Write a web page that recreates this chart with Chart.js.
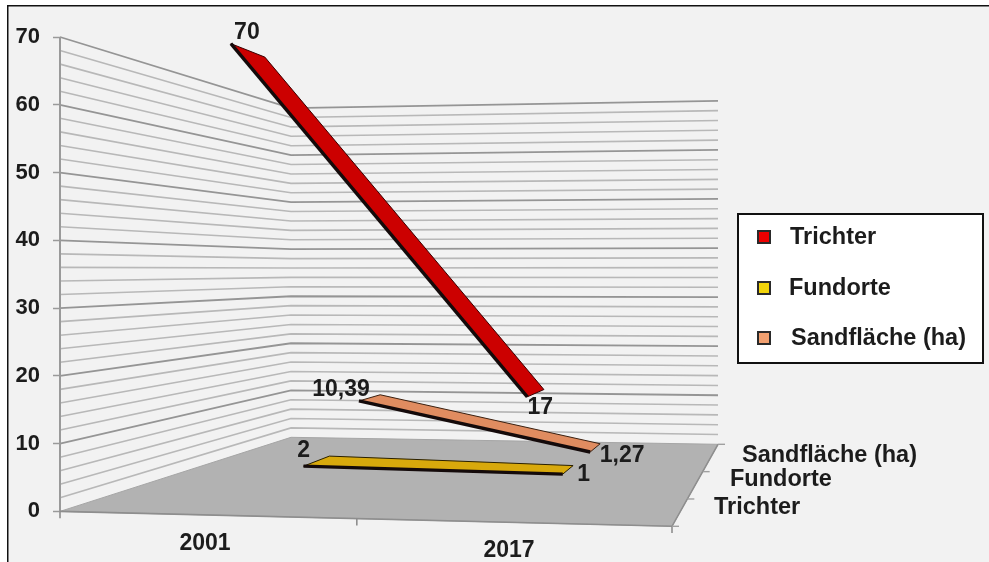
<!DOCTYPE html>
<html>
<head>
<meta charset="utf-8">
<script src="https://cdn.jsdelivr.net/npm/chart.js@4/dist/chart.umd.min.js"></script>
<style>
  html, body { margin: 0; padding: 0; background: #fff; }
  canvas { display: block; filter: blur(0.5px); }
</style>
</head>
<body>
<canvas id="chart" width="989" height="562"></canvas>
<script>
// data
const categories = ['2001', '2017'];
const seriesNames = ['Trichter', 'Fundorte', 'Sandfläche (ha)'];
const trichter = [70, 17];
const fundorte = [2, 1];
const sandflaeche = [10.39, 1.27];
const yTicks = [0, 10, 20, 30, 40, 50, 60, 70];

// look of the series
const seriesValues = [trichter, fundorte, sandflaeche];
const topColors = ['#cc0000', '#d8a90c', '#e08c60'];
const swatchColors = ['#ee0000', '#f2d40a', '#f2a070'];
const edgeColors = ['#3a0000', '#2a2000', '#3a2010'];

// the 3d box: floor corners in axis units, s = how tall one value unit is there
const FL = { x: 60, y: 0, s: 1 };
const FR = { x: 672, y: -2.2, s: 1.08 };
const BL = { x: 291, y: 10.93, s: 0.694 };
const BR = { x: 718, y: 9.9, s: 0.724 };
// where each ribbon sits on the floor, per series and category
const ribbonU = [[0.23, 0.75], [0.25, 0.74], [0.25, 0.745]];
const ribbonDepth = [
    [[0.16, 0.34], [0.09, 0.27]],
    [[0.49, 0.63], [0.53, 0.64]],
    [[0.79, 0.905], [0.797, 0.904]]
];

const lerp = (a, b, t) => a + (b - a) * t;

function project(u, w, value) {
    const at = key => lerp(lerp(FL[key], FR[key], u), lerp(BL[key], BR[key], u), w);
    return { x: at('x'), y: at('y') + value * at('s') };
}

const datasets = [];
function addLine(points, color, width, fillColor) {
    datasets.push({
        data: points,
        showLine: true,
        borderColor: color,
        borderWidth: width,
        backgroundColor: fillColor || 'transparent',
        fill: fillColor ? 'shape' : false,
        pointRadius: 0,
        tension: 0,
        clip: false
    });
}

// walls
for (let v = 2; v <= 70; v += 2) {
    const major = v % 10 === 0;
    addLine([project(0, 0, v), project(0, 1, v), project(1, 1, v)], major ? '#959595' : '#b8b8b8', major ? 1.8 : 1.6);
}
addLine([project(0, 0, 0), project(0, 0, 70)], '#9a9a9a', 2);

// floor
addLine([project(0, 0, 0), project(0, 1, 0), project(1, 1, 0), project(1, 0, 0), project(0, 0, 0)], '#a6a6a6', 1, '#b2b2b2');
addLine([project(0, 0, 0), project(1, 0, 0), project(1, 1, 0)], '#8e8e8e', 1.6);

// ticks round the floor
[0, 0.485, 1].forEach(u => {
    const p = project(u, 0, 0);
    addLine([p, { x: p.x, y: p.y - 1 }], '#8e8e8e', 1.6);
});
[0, 1 / 3, 2 / 3, 1].forEach(w => {
    const p = project(1, w, 0);
    addLine([p, { x: p.x + 7, y: p.y }], '#a0a0a0', 1.4);
});

// ribbons, back one first
[2, 1, 0].forEach(i => {
    const vals = seriesValues[i];
    const front = vals.map((v, c) => project(ribbonU[i][c], ribbonDepth[i][c][0], v));
    const back = vals.map((v, c) => project(ribbonU[i][c], ribbonDepth[i][c][1], v));
    addLine([front[0], back[0], back[1], front[1], front[0]], edgeColors[i], 1, topColors[i]);
    addLine(front, '#140a0a', 3.4);
});

// chart.js draws the first dataset last, so turn the list round
datasets.reverse();

const FAMILY = '"Liberation Sans", Arial, sans-serif';
const INK = '#1c1c1c';
// nudges from the front corner of a ribbon to its value label
const labelOffsets = [[[16, -11], [13, 11]], [[0, -15], [21, 1]], [[-18, -11], [32, 4]]];

const framePlugin = {
    id: 'frame',
    beforeDraw(chart) {
        const ctx = chart.ctx;
        ctx.save();
        ctx.fillStyle = '#ffffff';
        ctx.fillRect(0, 0, 989, 562);
        ctx.fillStyle = '#f2f2f2';
        ctx.fillRect(7, 5, 982, 557);
        ctx.fillStyle = '#111111';
        ctx.fillRect(7, 5, 982, 1.5);
        ctx.fillRect(7, 5, 1.5, 557);
        ctx.restore();
    }
};

const textPlugin = {
    id: 'texts',
    afterDraw(chart) {
        const ctx = chart.ctx;
        const sx = chart.scales.x;
        const sy = chart.scales.y;
        ctx.save();
        ctx.fillStyle = INK;
        ctx.font = 'bold 23px ' + FAMILY;
        ctx.textBaseline = 'middle';
        ctx.textAlign = 'center';

        // value labels
        seriesValues.forEach((vals, i) => {
            vals.forEach((v, c) => {
                const p = project(ribbonU[i][c], ribbonDepth[i][c][0], v);
                const [dx, dy] = labelOffsets[i][c];
                ctx.fillText(String(v).replace('.', ','), sx.getPixelForValue(p.x) + dx, sy.getPixelForValue(p.y) + dy);
            });
        });

        // category axis
        ctx.fillText(categories[0], 205, 544);
        ctx.fillText(categories[1], 509, 551);

        // depth axis
        ctx.textAlign = 'left';
        ctx.font = 'bold 23.5px ' + FAMILY;
        ctx.fillText(seriesNames[2], 742, 456);
        ctx.fillText(seriesNames[1], 730, 480);
        ctx.fillText(seriesNames[0], 714, 508);

        // legend box
        ctx.fillStyle = '#ffffff';
        ctx.strokeStyle = '#111111';
        ctx.lineWidth = 2;
        ctx.fillRect(738, 214, 245, 149);
        ctx.strokeRect(738, 214, 245, 149);
        const rowY = [237, 288, 338];
        const rowX = [790, 789, 791];
        seriesNames.forEach((name, i) => {
            ctx.fillStyle = swatchColors[i];
            ctx.strokeStyle = '#2a2a2a';
            ctx.fillRect(758, rowY[i] - 6, 12, 12);
            ctx.strokeRect(758, rowY[i] - 6, 12, 12);
            ctx.fillStyle = INK;
            ctx.fillText(name, rowX[i], rowY[i] + 1);
        });
        ctx.restore();
    }
};

new Chart(document.getElementById('chart'), {
    type: 'scatter',
    data: { datasets: datasets },
    plugins: [framePlugin, textPlugin],
    options: {
        responsive: false,
        animation: false,
        layout: { autoPadding: false, padding: { top: 37, bottom: 0, right: 271, left: 0 } },
        plugins: { legend: { display: false }, tooltip: { enabled: false } },
        scales: {
            x: { type: 'linear', min: 60, max: 718, display: false },
            y: {
                type: 'linear',
                // runs on below zero so the front of the floor stays inside the plot
                min: -3.6,
                max: 70,
                afterFit: scale => { scale.width = 60; },
                afterBuildTicks: scale => { scale.ticks = yTicks.map(v => ({ value: v })); },
                border: { display: false },
                grid: { drawOnChartArea: false, tickLength: 7, color: '#9a9a9a', tickWidth: 1.5 },
                ticks: { color: INK, font: { family: FAMILY, size: 22, weight: 'bold' }, padding: 13 }
            }
        }
    }
});
</script>
</body>
</html>
